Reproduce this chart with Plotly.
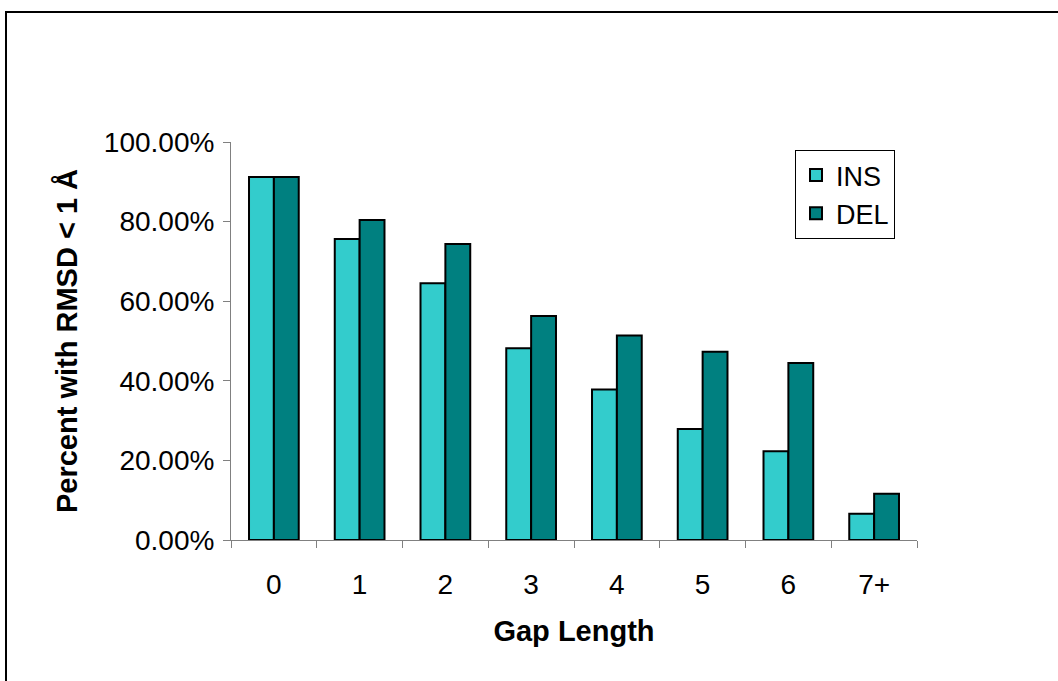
import plotly.graph_objects as go

categories = ["0", "1", "2", "3", "4", "5", "6", "7+"]
ins_values = [0.912, 0.756, 0.645, 0.482, 0.378, 0.279, 0.223, 0.066]
del_values = [0.912, 0.804, 0.744, 0.563, 0.514, 0.473, 0.445, 0.116]

W, H = 1058, 681
L, R, T, B = 231, 917, 142, 540

def px(x):
    return (x - L) / (R - L)

def py(y):
    return (B - y) / (B - T)

fig = go.Figure()
fig.add_trace(go.Bar(name="INS", x=categories, y=ins_values,
                     marker=dict(color="#33CCCC", line=dict(color="black", width=2))))
fig.add_trace(go.Bar(name="DEL", x=categories, y=del_values,
                     marker=dict(color="#008080", line=dict(color="black", width=2))))

font_family = "Liberation Sans, Arial, sans-serif"
fig.update_layout(
    width=W, height=H,
    margin=dict(l=L, r=W - R, t=T, b=H - B, autoexpand=False),
    paper_bgcolor="white", plot_bgcolor="white",
    barmode="group", bargap=0.42, bargroupgap=0,
    font=dict(family=font_family, size=28, color="black"),
    showlegend=True,
    legend=dict(x=px(795), y=py(150), xanchor="left", yanchor="top",
                bordercolor="black", borderwidth=1, bgcolor="white",
                font=dict(size=27), itemwidth=30, tracegroupgap=2),
    xaxis=dict(showline=True, linecolor="#808080", linewidth=1,
               ticks="outside", tickcolor="#808080", ticklen=7,
               tickson="boundaries", showgrid=False,
               tickfont=dict(size=28), ticklabelstandoff=19,
               title=dict(text="<b>Gap Length</b>", font=dict(size=29), standoff=22)),
    yaxis=dict(showline=True, linecolor="#808080", linewidth=1,
               ticks="outside", tickcolor="#808080", ticklen=7,
               range=[0, 1], dtick=0.2, tick0=0, tickformat=".2%",
               showgrid=False, zeroline=False, tickfont=dict(size=28),
               ticklabelstandoff=3,
               title=dict(text="<b>Percent with RMSD < 1 Å</b>", font=dict(size=29), standoff=17)),
    shapes=[dict(type="rect", xref="paper", yref="paper",
                 x0=px(6), x1=px(1070), y0=py(700), y1=py(12),
                 line=dict(color="black", width=2), fillcolor="rgba(0,0,0,0)", layer="below")],
)

fig.write_html("out.html", config={"displayModeBar": False},
               post_script="document.body.style.margin='0';document.body.style.overflow='hidden';")
